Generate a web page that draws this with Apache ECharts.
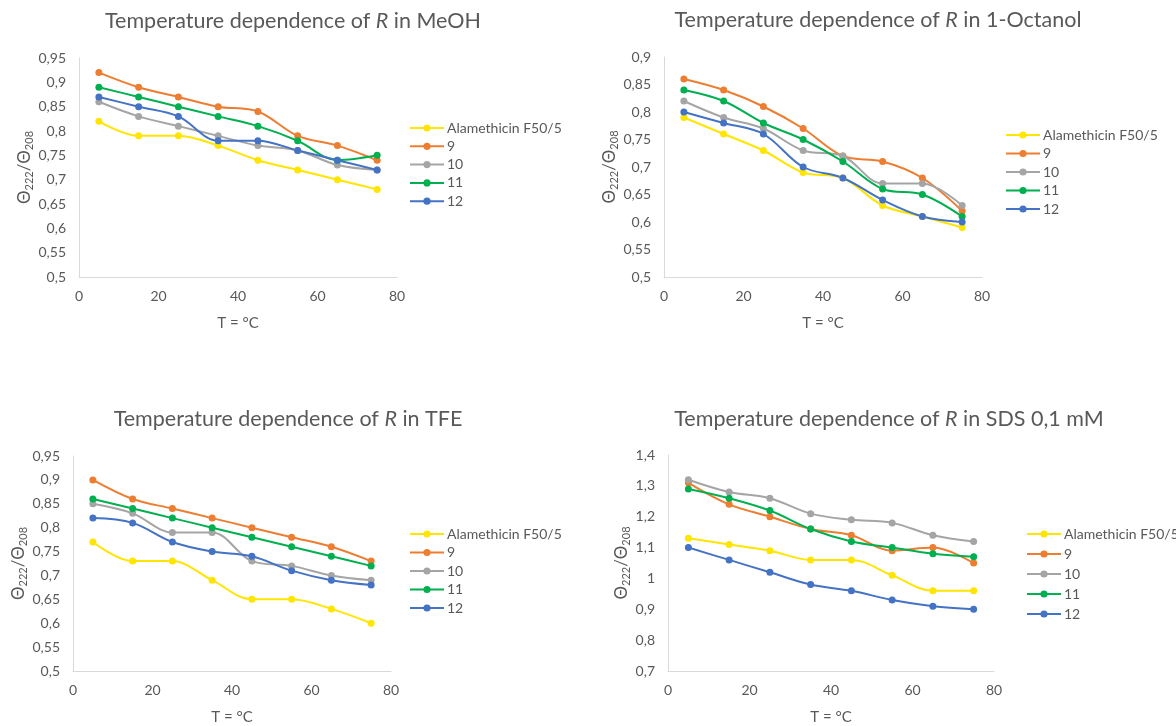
<!DOCTYPE html>
<html>
<head>
<meta charset="utf-8">
<script src="https://cdn.jsdelivr.net/npm/echarts@6/dist/echarts.min.js"></script>
<style>
html,body{margin:0;padding:0;background:#fff;}
#main{width:1176px;height:726px;}
</style>
</head>
<body>
<div id="main"></div>
<script>
// ---- data ----
const temps = [5, 15, 25, 35, 45, 55, 65, 75];
const seriesNames = ['Alamethicin F50/5', '9', '10', '11', '12'];
const panelSolvents = ['MeOH', '1-Octanol', 'TFE', 'SDS 0,1 mM'];

// MeOH
const meohAla = [0.82, 0.79, 0.79, 0.77, 0.74, 0.72, 0.70, 0.68];
const meoh9   = [0.92, 0.89, 0.87, 0.85, 0.84, 0.79, 0.77, 0.74];
const meoh10  = [0.86, 0.83, 0.81, 0.79, 0.77, 0.76, 0.73, 0.72];
const meoh11  = [0.89, 0.87, 0.85, 0.83, 0.81, 0.78, 0.74, 0.75];
const meoh12  = [0.87, 0.85, 0.83, 0.78, 0.78, 0.76, 0.74, 0.72];
// 1-Octanol
const octAla = [0.79, 0.76, 0.73, 0.69, 0.68, 0.63, 0.61, 0.59];
const oct9   = [0.86, 0.84, 0.81, 0.77, 0.72, 0.71, 0.68, 0.62];
const oct10  = [0.82, 0.79, 0.77, 0.73, 0.72, 0.67, 0.67, 0.63];
const oct11  = [0.84, 0.82, 0.78, 0.75, 0.71, 0.66, 0.65, 0.61];
const oct12  = [0.80, 0.78, 0.76, 0.70, 0.68, 0.64, 0.61, 0.60];
// TFE
const tfeAla = [0.77, 0.73, 0.73, 0.69, 0.65, 0.65, 0.63, 0.60];
const tfe9   = [0.90, 0.86, 0.84, 0.82, 0.80, 0.78, 0.76, 0.73];
const tfe10  = [0.85, 0.83, 0.79, 0.79, 0.73, 0.72, 0.70, 0.69];
const tfe11  = [0.86, 0.84, 0.82, 0.80, 0.78, 0.76, 0.74, 0.72];
const tfe12  = [0.82, 0.81, 0.77, 0.75, 0.74, 0.71, 0.69, 0.68];
// SDS 0,1 mM
const sdsAla = [1.13, 1.11, 1.09, 1.06, 1.06, 1.01, 0.96, 0.96];
const sds9   = [1.31, 1.24, 1.20, 1.16, 1.14, 1.09, 1.10, 1.05];
const sds10  = [1.32, 1.28, 1.26, 1.21, 1.19, 1.18, 1.14, 1.12];
const sds11  = [1.29, 1.26, 1.22, 1.16, 1.12, 1.10, 1.08, 1.07];
const sds12  = [1.10, 1.06, 1.02, 0.98, 0.96, 0.93, 0.91, 0.90];

const panelData = [
  [meohAla, meoh9, meoh10, meoh11, meoh12],
  [octAla, oct9, oct10, oct11, oct12],
  [tfeAla, tfe9, tfe10, tfe11, tfe12],
  [sdsAla, sds9, sds10, sds11, sds12]
];
const yMin = [0.5, 0.5, 0.5, 0.7];
const yMax = [0.95, 0.9, 0.95, 1.4];
const yStep = [0.05, 0.05, 0.05, 0.1];
const xMin = 0, xMax = 80, xStep = 20;

// ---- layout / style ----
const colors = ['#FFE500', '#ED7D31', '#A5A5A5', '#00B050', '#4472C4'];
const FONT = 'Lato';
const TXT = '#595959';
const grids = [
  {left: 79, top: 58, width: 318, height: 219},
  {left: 664, top: 57, width: 318, height: 220},
  {left: 73, top: 456, width: 318, height: 218},
  {left: 668, top: 455, width: 326, height: 218}
];
const titlePos = [[293, 10], [878, 9], [288, 408], [889, 408]];
const legendPos = [[409, 121], [1005, 128], [409, 527], [1026, 527]];
const legendGap = [4.3, 4.5, 4.5, 6];
const yNameGap = [44, 41, 40, 36];

const fmt = v => String(+(+v).toFixed(2)).replace('.', ',');

const option = {
  animation: false,
  backgroundColor: '#fff',
  textStyle: {fontFamily: FONT, color: TXT},
  title: panelSolvents.map((s, i) => ({
    text: '{a|Temperature dependence of }{i|R}{a| in ' + s + '}',
    left: titlePos[i][0], top: titlePos[i][1], textAlign: 'center', padding: 0,
    textStyle: {
      rich: {
        a: {fontFamily: FONT, fontSize: 21.5, color: TXT, fontWeight: 'normal'},
        i: {fontFamily: FONT, fontSize: 21.5, color: TXT, fontStyle: 'italic', fontWeight: 'normal'}
      }
    }
  })),
  legend: panelSolvents.map((s, i) => ({
    orient: 'vertical', left: legendPos[i][0], top: legendPos[i][1], padding: 0,
    itemWidth: 34, itemHeight: 9, itemGap: legendGap[i],
    data: seriesNames,
    selectedMode: false,
    textStyle: {fontFamily: FONT, fontSize: 14, color: TXT, padding: [0, 0, 0, -2]}
  })),
  grid: grids.map(g => Object.assign({containLabel: false}, g)),
  xAxis: grids.map((g, i) => ({
    type: 'value', gridIndex: i, min: xMin, max: xMax, interval: xStep,
    name: 'T = °C', nameLocation: 'middle', nameGap: 39,
    nameTextStyle: {fontFamily: FONT, fontSize: 15, color: TXT},
    axisLine: {show: true, lineStyle: {color: '#D9D9D9', width: 1}},
    axisTick: {show: false}, splitLine: {show: false},
    axisLabel: {fontFamily: FONT, fontSize: 14, color: TXT, margin: 12}
  })),
  yAxis: grids.map((g, i) => ({
    type: 'value', gridIndex: i, min: yMin[i], max: yMax[i], interval: yStep[i],
    name: '{m|Θ}{s|222}{m|/Θ}{s|208}', nameLocation: 'middle', nameRotate: 90, nameGap: yNameGap[i],
    nameTextStyle: {
      rich: {
        m: {fontFamily: FONT, fontSize: 17, color: TXT, verticalAlign: 'middle', lineHeight: 20},
        s: {fontFamily: FONT, fontSize: 11, color: TXT, verticalAlign: 'bottom', lineHeight: 14}
      }
    },
    axisLine: {show: true, lineStyle: {color: '#D9D9D9', width: 1}},
    axisTick: {show: false}, splitLine: {show: false},
    axisLabel: {fontFamily: FONT, fontSize: 14, color: TXT, margin: 13, formatter: fmt}
  })),
  series: []
};

panelData.forEach((arrs, p) => {
  arrs.forEach((vals, k) => {
    option.series.push({
      type: 'line', name: seriesNames[k], xAxisIndex: p, yAxisIndex: p,
      data: temps.map((t, j) => [t, vals[j]]),
      smooth: 0.35,
      symbol: 'circle', symbolSize: 7,
      color: colors[k],
      lineStyle: {width: 2, color: colors[k]},
      itemStyle: {color: colors[k]},
      emphasis: {disabled: true}
    });
  });
});

const chart = echarts.init(document.getElementById('main'), null, {renderer: 'canvas'});
chart.setOption(option);
</script>
</body>
</html>
